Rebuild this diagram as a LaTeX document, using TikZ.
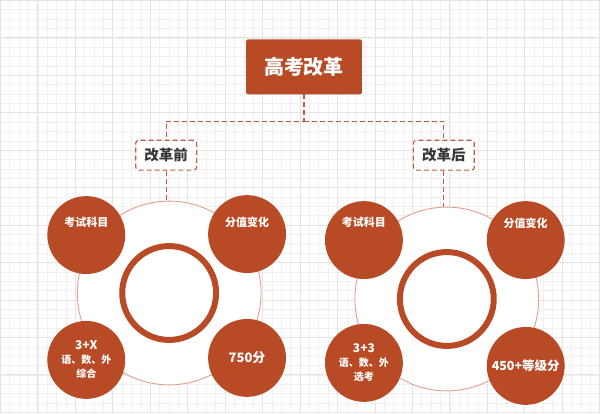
\documentclass[tikz,border=0pt]{standalone}
\usepackage{fontspec}
\setmainfont{Noto Sans CJK SC}
\definecolor{rust}{RGB}{185,74,38}
\definecolor{salmon}{RGB}{226,160,140}
\definecolor{darktext}{RGB}{55,55,55}
\definecolor{gridminor}{RGB}{240,240,240}
\definecolor{gridmajor}{RGB}{228,228,228}
\tikzset{
  titlebox/.style={rectangle, rounded corners=2pt, fill=rust, text=white,
    minimum width=116pt, minimum height=55pt, font=\fontsize{20}{24}\selectfont\bfseries},
  stagebox/.style={rectangle, rounded corners=3pt, draw=rust!90, dashed, line width=1.1pt,
    dash pattern=on 5pt off 3pt, fill=white, text=darktext,
    minimum width=61pt, minimum height=30pt, font=\fontsize{14.5}{17}\selectfont\bfseries},
  conn/.style={draw=rust!90, line width=1.1pt, dash pattern=on 5pt off 3pt},
  outerring/.style={circle, draw=salmon, line width=0.9pt, fill=white, minimum size=184pt},
  innerring/.style={circle, draw=rust, line width=6pt, fill=white, minimum size=94pt},
  blob/.style={circle, fill=rust, text=white, minimum size=78pt, inner sep=0pt, align=center},
  blobtext/.style={text=white, font=\fontsize{11}{13}\selectfont\bfseries},
}
\begin{document}
\begin{tikzpicture}[x=1pt,y=-1pt]
% background grid
\fill[white] (0,0) rectangle (600,413);
\foreach \i in {0,...,64}
  \draw[gridminor, line width=0.6pt] (\i*9.375,0) -- (\i*9.375,413);
\foreach \i in {0,...,44}
  \draw[gridminor, line width=0.6pt] (0,\i*9.375) -- (600,\i*9.375);
\foreach \i in {0,...,16}
  \draw[gridmajor, line width=0.8pt] (\i*37.5,0) -- (\i*37.5,413);
\foreach \i in {0,...,11}
  \draw[gridmajor, line width=0.8pt] (0,\i*37.5) -- (600,\i*37.5);
\useasboundingbox (0,0) rectangle (600,413);

% top level
\node[titlebox] (gaokao) at (304,66.5) {高考改革};
\coordinate (split) at (304,121);
\node[stagebox] (before) at (166,155) {改革前};
\node[stagebox] (after) at (444,155) {改革后};
\draw[conn] (gaokao.south) -- (split) -| (before.north);
\draw[conn] (split) -| (after.north);

% before
\node[outerring] (ringL) at (169,293) {};
\node[innerring] (coreL) at (169,293) {};
\draw[conn] (before.south) -- (before.south |- ringL.north);
\node[blob] (subjL) at (86,235) {};
\node[blobtext] at ([yshift=13pt]subjL.center) {考试科目};
\node[blob] (scoreL) at (247,234) {};
\node[blobtext] at ([yshift=12pt]scoreL.center) {分值变化};
\node[blob, font=\fontsize{10}{14}\selectfont\bfseries] (detailL) at (86,360)
  {{\fontsize{12}{14}\selectfont 3+X}\\语、数、外\\综合};
\node[blob, font=\fontsize{13}{15}\selectfont\bfseries] (totalL) at (247,358) {750分};

% after
\node[outerring] (ringR) at (447,299) {};
\node[innerring] (coreR) at (447,299) {};
\draw[conn] (after.south) -- (after.south |- ringR.north);
\node[blob] (subjR) at (364,240) {};
\node[blobtext] at ([yshift=18pt]subjR.center) {考试科目};
\node[blob] (scoreR) at (526,240) {};
\node[blobtext] at ([yshift=17pt]scoreR.center) {分值变化};
\node[blob, font=\fontsize{10}{14}\selectfont\bfseries] (detailR) at (364,363)
  {{\fontsize{12}{14}\selectfont 3+3}\\语、数、外\\选考};
\node[blob, font=\fontsize{12.5}{15}\selectfont\bfseries] (totalR) at (526,366) {450+等级分};
\end{tikzpicture}
\end{document}
